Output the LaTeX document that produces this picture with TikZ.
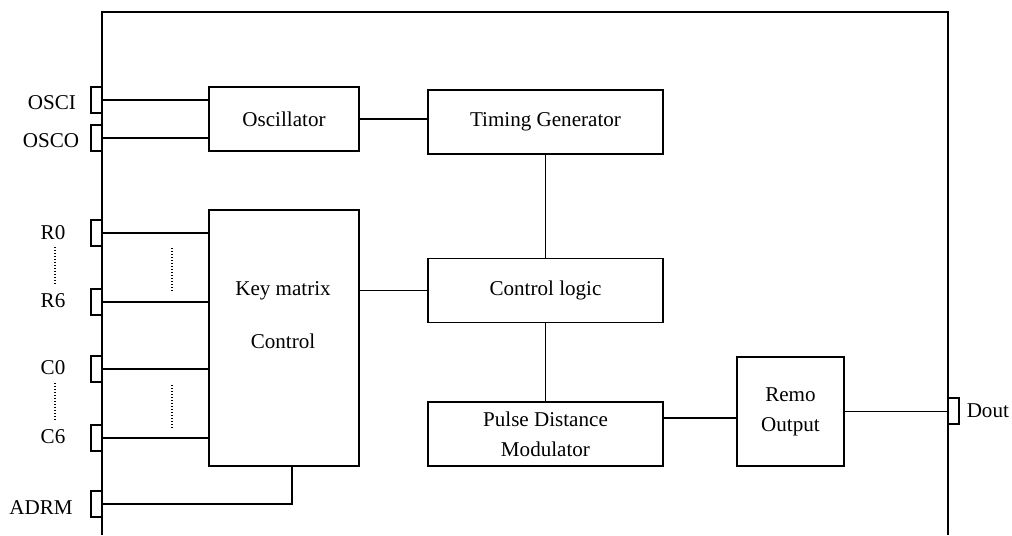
\documentclass[tikz,border=0pt]{standalone}
\usepackage{fontspec}
\setmainfont{Liberation Serif}
\usetikzlibrary{positioning}

\begin{document}
\begin{tikzpicture}[%
    x=0.02cm, y=-0.02cm,         % one unit is one pixel of the sketch
    line width=1pt,
    every node/.style={font=\fontsize{12}{17}\selectfont},
    ]
% -------------------------------------------------
% Box styles
\tikzset{
  block/.style={draw, rectangle, align=center, inner sep=2pt},
  wide/.style={block, minimum width=4.7cm, minimum height=1.28cm},
  pin/.style={draw, rectangle, inner sep=0pt, minimum width=0.22cm, minimum height=0.52cm},
  tag/.style={inner sep=0pt},
  wire/.style={draw},
  dots/.style={draw, line width=0.7pt, densely dotted}
}
\useasboundingbox (0,0) rectangle (1012,535);
% -------------------------------------------------
% Chip outline, open at the bottom
\draw (102,535) -- (102,12) -- (948,12) -- (948,535);

% -------------------------------------------------
% Function blocks
\node [block, minimum width=3cm, minimum height=1.28cm] (osc) at (284,119) {Oscillator};
\node [wide] (tg) at (545.5,122) {Timing Generator};
\node [wide] (cl) at (545.5,290.5) {Control logic};
\node [wide, minimum height=1.28cm] (pdm) at (545.5,434) {Pulse Distance\\Modulator};
\node [block, minimum width=3cm, minimum height=5.12cm] (km) at (284,338) {};
\node [tag, align=center, font=\fontsize{12}{30}\selectfont] (kmtext) at (283,315) {Key matrix\\Control};
\node [block, minimum width=2.14cm, minimum height=2.18cm] (remo) at (790.5,411.5) {Remo\\Output};

% -------------------------------------------------
% Pins and their names
\node [pin] (pOSCI) at (96.5,100) {};
\node [pin] (pOSCO) at (96.5,138) {};
\node [pin] (pR0)   at (96.5,233) {};
\node [pin] (pR6)   at (96.5,302) {};
\node [pin] (pC0)   at (96.5,369) {};
\node [pin] (pC6)   at (96.5,438) {};
\node [pin] (pADRM) at (96.5,504) {};
\node [pin] (pDout) at (953.5,411) {};

\node [tag] (lOSCI) at (52,103) {OSCI};
\node [tag] (lOSCO) at (51,141) {OSCO};
\node [tag] (lR0)   at (53,233) {R0};
\node [tag] (lR6)   at (53,301) {R6};
\node [tag] (lC0)   at (53,368) {C0};
\node [tag] (lC6)   at (53,437) {C6};
\node [tag] (lADRM) at (41,508) {ADRM};
\node [tag, right=1.2mm of pDout] (lDout) {Dout};

% -------------------------------------------------
% Wires
\draw [wire] (pOSCI.east) -- (pOSCI.east -| osc.west);
\draw [wire] (pOSCO.east) -- (pOSCO.east -| osc.west);
\draw [wire] (osc.east) -- (osc.east -| tg.west);
\draw [wire] (tg.south) -- (cl.north);
\draw [wire] (cl.west) -- (cl.west -| km.east);
\draw [wire] (cl.south) -- (pdm.north);
\coordinate (pdmout) at (663,418);
\draw [wire] (pdmout) -- (pdmout -| remo.west);
\draw [wire] (remo.east) -- (remo.east -| pDout.west);

\draw [wire] (pR0.east) -- (pR0.east -| km.west);
\draw [wire] (pR6.east) -- (pR6.east -| km.west);
\draw [wire] (pC0.east) -- (pC0.east -| km.west);
\draw [wire] (pC6.east) -- (pC6.east -| km.west);
\draw [wire] (pADRM.east) -| ([xshift=4.5pt]km.south);

% dotted fillers between pin groups
\draw [dots] (55,247) -- (55,284);
\draw [dots] (172,248) -- (172,291);
\draw [dots] (55,383) -- (55,420);
\draw [dots] (172,385) -- (172,427);
% -------------------------------------------------
\end{tikzpicture}
\end{document}
